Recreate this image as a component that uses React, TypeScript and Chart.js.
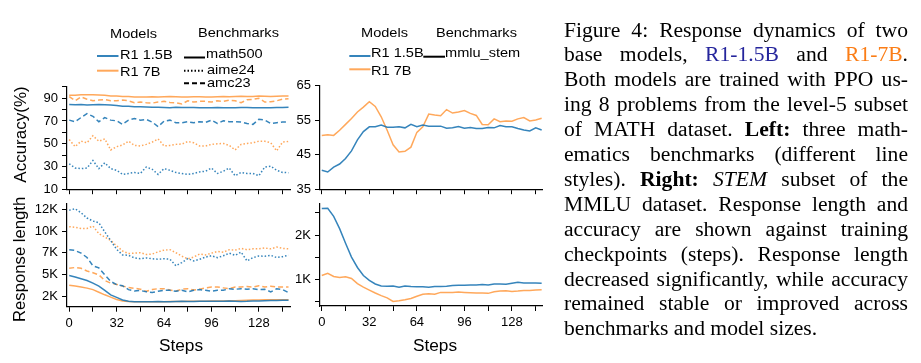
import React, { useEffect, useRef } from "react";
import { Chart, registerables } from "chart.js";
Chart.register(...registerables);

// ---------------- data ----------------
const steps = [0, 4, 8, 12, 16, 20, 24, 28, 32, 36, 40, 44, 48, 52, 56, 60, 64, 68, 72, 76, 80, 84, 88, 92, 96, 100, 104, 108, 112, 116, 120, 124, 128, 132, 136, 140, 144, 148];
const xTickValues = [0, 16, 32, 48, 64, 80, 96, 112, 128, 144];
const xTickLabels = ["0", "", "32", "", "64", "", "96", "", "128", ""];

// Left, accuracy (%)
const accMath500_15B = [84.5, 84.3, 84.5, 84.0, 84.3, 84.5, 84.3, 84.0, 83.5, 83.0, 82.8, 82.5, 82.5, 82.2, 82.0, 82.0, 81.8, 81.5, 82.0, 81.8, 81.8, 81.8, 81.5, 81.5, 81.5, 81.8, 81.5, 81.5, 81.5, 81.8, 81.8, 81.5, 81.5, 81.5, 81.5, 81.8, 81.8, 82.0];
const accMath500_7B = [92.5, 92.5, 93.0, 93.0, 93.0, 92.8, 92.5, 92.0, 92.0, 91.5, 91.5, 91.0, 91.0, 91.0, 91.2, 91.0, 91.2, 91.5, 91.2, 91.0, 91.0, 91.3, 91.2, 91.0, 91.0, 91.3, 91.5, 91.2, 91.5, 91.8, 91.5, 91.5, 92.0, 91.8, 91.5, 91.8, 92.0, 92.0];
const accAmc23_7B = [91.4, 87.7, 91.1, 89.1, 87.7, 88.3, 88.9, 87.7, 87.7, 88.3, 87.7, 86.0, 86.6, 86.0, 85.7, 86.6, 87.2, 86.3, 86.0, 84.9, 87.7, 86.6, 87.2, 87.2, 86.6, 87.7, 87.2, 88.3, 87.7, 86.0, 88.6, 88.9, 90.0, 86.6, 86.9, 87.7, 89.1, 89.5];
const accAmc23_15B = [70.7, 69.3, 73.0, 76.4, 74.1, 69.3, 73.0, 70.7, 70.1, 67.0, 70.7, 72.1, 70.7, 71.3, 69.0, 65.0, 69.8, 70.7, 68.4, 68.4, 69.3, 68.4, 69.3, 68.7, 70.7, 67.8, 70.1, 69.3, 69.3, 69.0, 67.8, 67.0, 71.5, 70.7, 67.8, 68.4, 69.0, 69.0];
const accAime24_7B = [53.6, 47.4, 52.2, 50.8, 57.0, 52.2, 54.2, 44.5, 47.4, 48.8, 52.2, 48.5, 48.0, 49.4, 51.4, 54.2, 48.0, 48.5, 49.4, 49.7, 51.9, 50.8, 48.0, 48.0, 49.4, 49.9, 50.2, 48.5, 44.5, 49.4, 50.2, 50.8, 52.2, 52.2, 50.8, 43.7, 51.4, 52.0];
const accAime24_15B = [32.3, 28.6, 28.1, 28.6, 35.2, 28.1, 33.2, 28.1, 26.6, 23.0, 23.8, 24.7, 23.8, 29.5, 27.5, 23.0, 28.1, 26.6, 24.7, 23.8, 23.0, 23.8, 25.2, 25.8, 28.6, 23.8, 25.8, 28.6, 21.8, 24.7, 23.8, 23.8, 21.8, 29.5, 30.3, 26.6, 24.7, 24.5];
const accYTicks = [10, 20, 30, 40, 50, 60, 70, 80, 90, 100];
const accYLabels = ["10", "", "30", "", "50", "", "70", "", "90", ""];

// Left, response length
const lenAime24_15B = [12400, 12570, 12100, 11500, 11150, 10950, 9900, 8900, 7900, 7250, 7200, 6900, 6800, 6900, 6800, 6750, 6800, 6750, 6000, 6370, 6820, 6560, 6750, 7000, 7150, 6940, 7150, 7450, 7200, 7570, 6560, 6940, 7120, 7100, 7200, 6940, 7050, 7200];
const lenAime24_7B = [10500, 10430, 10300, 10300, 10580, 9700, 9300, 8900, 8300, 7700, 7400, 7450, 7500, 7300, 7350, 7600, 7800, 7850, 7500, 7100, 6800, 7000, 7350, 7250, 7450, 7650, 7550, 7850, 7800, 8000, 7850, 7950, 7950, 8050, 7950, 8150, 8000, 7950];
const lenAmc23_15B = [7850, 7760, 7450, 6950, 6000, 5750, 4950, 4200, 3820, 3700, 3250, 3080, 3150, 3000, 2920, 3060, 3175, 3175, 3060, 3175, 2990, 3175, 3250, 3175, 3060, 3175, 3175, 3350, 3290, 3350, 3290, 3350, 3250, 3290, 2990, 3350, 3250, 2900];
const lenAmc23_7B = [5700, 5800, 5700, 5400, 5200, 4950, 4300, 4000, 3850, 3650, 3500, 3400, 3300, 3050, 3250, 3360, 3360, 3200, 3100, 3290, 3360, 3200, 3300, 3440, 3550, 3550, 3450, 3360, 3550, 3550, 3600, 3550, 3700, 3550, 3650, 3550, 3550, 3550];
const lenMath500_15B = [4870, 4700, 4500, 4300, 4000, 3650, 3150, 2650, 2350, 2050, 1900, 1860, 1850, 1850, 1850, 1870, 1850, 1860, 1880, 1900, 1880, 1870, 1900, 1900, 1920, 1920, 1900, 1930, 1900, 1880, 1900, 1950, 1950, 1980, 2000, 2000, 2020, 2030];
const lenMath500_7B = [3740, 3660, 3550, 3420, 3250, 2950, 2650, 2380, 2120, 1950, 1870, 1860, 1850, 1850, 1860, 1850, 1860, 1870, 1880, 1880, 1900, 1900, 1910, 1920, 1930, 1940, 1950, 1960, 1980, 2000, 2030, 2050, 2060, 2070, 2070, 2080, 2080, 2080];
const lenYTicks = [2500, 5000, 7500, 10000, 12500];
const lenYLabels = ["2K", "5K", "7K", "10K", "12K"];

// Right, MMLU STEM
const stemAcc_15B = [40.5, 40.0, 41.4, 42.3, 43.9, 46.1, 49.3, 51.7, 53.1, 53.1, 53.6, 53.0, 53.0, 53.1, 52.8, 53.8, 53.1, 53.6, 53.3, 53.3, 53.3, 52.7, 52.8, 53.2, 52.7, 52.9, 52.6, 52.6, 52.9, 52.8, 53.5, 53.1, 53.1, 52.6, 52.2, 51.9, 52.8, 52.2];
const stemAcc_7B = [50.6, 50.8, 50.6, 52.1, 53.8, 55.5, 57.4, 58.8, 60.4, 59.0, 56.0, 52.1, 47.9, 45.8, 46.0, 47.2, 51.5, 53.1, 56.8, 56.5, 56.3, 58.1, 57.1, 57.4, 57.8, 57.0, 56.4, 53.8, 53.7, 55.4, 54.6, 54.8, 54.7, 55.4, 55.8, 54.8, 55.1, 55.6];
const stemAccTicks = [35, 45, 55, 65];
const stemAccLabels = ["35", "45", "55", "65"];
const stemLen_15B = [2600, 2607, 2424, 2146, 1817, 1503, 1268, 1086, 976, 895, 851, 844, 851, 822, 851, 837, 830, 830, 822, 837, 837, 844, 859, 866, 866, 873, 873, 881, 873, 895, 895, 888, 910, 932, 917, 917, 917, 910];
const stemLen_7B = [1086, 1137, 1064, 1042, 1056, 1020, 903, 822, 756, 690, 632, 581, 500, 515, 537, 566, 617, 661, 676, 661, 705, 705, 705, 712, 705, 698, 690, 690, 683, 720, 734, 742, 727, 734, 749, 749, 756, 764];
const stemLenTicks = [500, 1000, 1500, 2000, 2500];
const stemLenLabels = ["", "1K", "", "2K", ""];

// ---------------- styles ----------------
const SANS = "'Liberation Sans', Arial, Helvetica, sans-serif";
const SERIF = "'Liberation Serif', 'Times New Roman', serif";
const BLUE = "rgba(31,119,180,0.9)";
const ORANGE = "rgba(255,127,14,0.68)";
const SOLID: number[] = [];
const DASHED = [5, 3];
const DOTTED = [1.5, 2];

type DS = { label: string; values: number[]; color: string; dash: number[] };

type PanelProps = {
  left: number; top: number; width: number; height: number;
  padTop: number; padRight: number; yWidth: number; xHeight: number;
  datasets: DS[];
  yMin: number; yMax: number; yTicks: number[]; yLabels: string[];
  xMin: number; xMax: number; showX: boolean;
};

function Panel(p: PanelProps) {
  const ref = useRef<HTMLCanvasElement | null>(null);
  useEffect(() => {
    if (!ref.current) return;
    const chart = new Chart(ref.current, {
      type: "line",
      data: {
        datasets: p.datasets.map((d) => ({
          label: d.label,
          data: steps.map((s, i) => ({ x: s, y: d.values[i] })),
          borderColor: d.color,
          backgroundColor: d.color,
          borderWidth: 1.5,
          borderDash: d.dash,
          pointRadius: 0,
          fill: false,
          tension: 0,
        })),
      },
      options: {
        responsive: false,
        animation: false,
        events: [],
        layout: { padding: { top: p.padTop, right: p.padRight, left: 0, bottom: 0 } },
        plugins: { legend: { display: false }, tooltip: { enabled: false } },
        scales: {
          x: {
            type: "linear",
            min: p.xMin,
            max: p.xMax,
            afterBuildTicks: (s: any) => { s.ticks = xTickValues.map((v) => ({ value: v })); },
            afterFit: (s: any) => { s.height = p.xHeight; },
            ticks: {
              autoSkip: false, maxRotation: 0, minRotation: 0, padding: 4, color: "#000",
              font: { family: SANS, size: 13 },
              callback: (v: any) => {
                if (!p.showX) return "";
                const i = xTickValues.indexOf(Number(v));
                return i >= 0 ? xTickLabels[i] : "";
              },
            },
            grid: { drawOnChartArea: false, drawTicks: true, tickLength: 5, color: "#000", lineWidth: 1 },
            border: { color: "#000", width: 1.2 },
          },
          y: {
            type: "linear",
            min: p.yMin,
            max: p.yMax,
            afterBuildTicks: (s: any) => { s.ticks = p.yTicks.map((v) => ({ value: v })); },
            afterFit: (s: any) => { s.width = p.yWidth; },
            ticks: {
              autoSkip: false, padding: 4, color: "#000",
              font: { family: SANS, size: 13 },
              callback: (v: any) => {
                const i = p.yTicks.indexOf(Number(v));
                return i >= 0 ? p.yLabels[i] : "";
              },
            },
            grid: { drawOnChartArea: false, drawTicks: true, tickLength: 5, color: "#000", lineWidth: 1 },
            border: { color: "#000", width: 1.2 },
          },
        },
      },
    } as any);
    return () => chart.destroy();
  }, []);
  return (
    <canvas
      ref={ref}
      width={p.width}
      height={p.height}
      style={{ position: "absolute", left: p.left, top: p.top, width: p.width, height: p.height }}
    />
  );
}

function Txt(props: { x: number; cy: number; size: number; sx?: number; children: React.ReactNode }) {
  const { x, cy, size, sx = 1.12, children } = props;
  return (
    <div
      style={{
        position: "absolute", left: x, top: cy - size * 0.49, fontFamily: SANS, fontSize: size,
        lineHeight: 1, whiteSpace: "nowrap", color: "#000",
        transform: `scaleX(${sx})`, transformOrigin: "left center",
      }}
    >
      {children}
    </div>
  );
}

function CTxt(props: { cx: number; cy: number; size: number; sx?: number; children: React.ReactNode }) {
  const { cx, cy, size, sx = 1.08, children } = props;
  return (
    <div
      style={{
        position: "absolute", left: cx - 60, width: 120, top: cy - size * 0.49, fontFamily: SANS,
        fontSize: size, lineHeight: 1, whiteSpace: "nowrap", textAlign: "center", color: "#000",
        transform: `scaleX(${sx})`, transformOrigin: "center center",
      }}
    >
      {children}
    </div>
  );
}

function VTxt(props: { cx: number; cy: number; size: number; children: React.ReactNode }) {
  const { cx, cy, size, children } = props;
  const W = 200;
  return (
    <div
      style={{
        position: "absolute", left: cx - W / 2, top: cy - size / 2, width: W, height: size,
        fontFamily: SANS, fontSize: size, lineHeight: 1, whiteSpace: "nowrap", textAlign: "center",
        color: "#000", transform: "rotate(-90deg)", transformOrigin: "center center",
      }}
    >
      {children}
    </div>
  );
}

const captionLines: React.ReactNode[] = [
  <>Figure 4: Response dynamics of two</>,
  <>base models, <span style={{ color: "#25259c" }}>R1-1.5B</span> and <span style={{ color: "#fb7d16" }}>R1-7B</span>.</>,
  <>Both models are trained with PPO us-</>,
  <>ing 8 problems from the level-5 subset</>,
  <>of MATH dataset. <b>Left:</b> three math-</>,
  <>ematics benchmarks (different line</>,
  <>styles). <b>Right:</b> <i>STEM</i> subset of the</>,
  <>MMLU dataset. Response length and</>,
  <>accuracy are shown against training</>,
  <>checkpoints (steps). Response length</>,
  <>decreased significantly, while accuracy</>,
  <>remained stable or improved across</>,
  <>benchmarks and model sizes.</>,
];

export default function App() {
  const CAP_SX = 1.08;
  return (
    <div style={{ position: "absolute", left: 0, top: 0, width: 921, height: 363, background: "#fff", overflow: "hidden" }}>
      <Panel
        left={0} top={75} width={300} height={126} padTop={10} padRight={10} yWidth={67} xHeight={10.3}
        datasets={[
          { label: "R1 1.5B math500", values: accMath500_15B, color: BLUE, dash: SOLID },
          { label: "R1 7B math500", values: accMath500_7B, color: ORANGE, dash: SOLID },
          { label: "R1 1.5B aime24", values: accAime24_15B, color: BLUE, dash: DOTTED },
          { label: "R1 7B aime24", values: accAime24_7B, color: ORANGE, dash: DOTTED },
          { label: "R1 1.5B amc23", values: accAmc23_15B, color: BLUE, dash: DASHED },
          { label: "R1 7B amc23", values: accAmc23_7B, color: ORANGE, dash: DASHED },
        ]}
        yMin={10} yMax={100} yTicks={accYTicks} yLabels={accYLabels} xMin={-1.5} xMax={149} showX={false}
      />
      <Panel
        left={0} top={192} width={300} height={171} padTop={9.7} padRight={10} yWidth={67} xHeight={56.3}
        datasets={[
          { label: "R1 1.5B math500", values: lenMath500_15B, color: BLUE, dash: SOLID },
          { label: "R1 7B math500", values: lenMath500_7B, color: ORANGE, dash: SOLID },
          { label: "R1 1.5B aime24", values: lenAime24_15B, color: BLUE, dash: DOTTED },
          { label: "R1 7B aime24", values: lenAime24_7B, color: ORANGE, dash: DOTTED },
          { label: "R1 1.5B amc23", values: lenAmc23_15B, color: BLUE, dash: DASHED },
          { label: "R1 7B amc23", values: lenAmc23_7B, color: ORANGE, dash: DASHED },
        ]}
        yMin={1280} yMax={13140} yTicks={lenYTicks} yLabels={lenYLabels} xMin={-1.5} xMax={149} showX={true}
      />
      <Panel
        left={280} top={74} width={280} height={127} padTop={10} padRight={17.3} yWidth={40} xHeight={10.5}
        datasets={[
          { label: "R1 1.5B mmlu_stem", values: stemAcc_15B, color: BLUE, dash: SOLID },
          { label: "R1 7B mmlu_stem", values: stemAcc_7B, color: ORANGE, dash: SOLID },
        ]}
        yMin={35} yMax={65} yTicks={stemAccTicks} yLabels={stemAccLabels} xMin={-1.2} xMax={148.7} showX={false}
      />
      <Panel
        left={280} top={192} width={280} height={171} padTop={9} padRight={17.3} yWidth={40} xHeight={57}
        datasets={[
          { label: "R1 1.5B mmlu_stem", values: stemLen_15B, color: BLUE, dash: SOLID },
          { label: "R1 7B mmlu_stem", values: stemLen_7B, color: ORANGE, dash: SOLID },
        ]}
        yMin={397} yMax={2708} yTicks={stemLenTicks} yLabels={stemLenLabels} xMin={-1.2} xMax={148.7} showX={true}
      />

      {/* legend handles */}
      <svg width={921} height={363} style={{ position: "absolute", left: 0, top: 0 }}>
        <line x1={97} y1={56} x2={118.5} y2={56} stroke={BLUE} strokeWidth={2} />
        <line x1={97} y1={70.7} x2={118.5} y2={70.7} stroke={ORANGE} strokeWidth={2} />
        <line x1={184} y1={57.5} x2={205} y2={57.5} stroke="#000" strokeWidth={2} />
        <line x1={184} y1={70.7} x2={205} y2={70.7} stroke="#000" strokeWidth={2} strokeDasharray="1.5 2" />
        <line x1={184} y1={83.3} x2={205} y2={83.3} stroke="#000" strokeWidth={2} strokeDasharray="5 3" />
        <line x1={349.3} y1={56} x2={370.5} y2={56} stroke={BLUE} strokeWidth={2} />
        <line x1={349.3} y1={69.3} x2={370.5} y2={69.3} stroke={ORANGE} strokeWidth={2} />
        <line x1={423.3} y1={56.7} x2={445} y2={56.7} stroke="#000" strokeWidth={2} />
      </svg>

      {/* left legend */}
      <Txt x={110} cy={33} size={13}>Models</Txt>
      <Txt x={198} cy={32.5} size={13}>Benchmarks</Txt>
      <Txt x={120} cy={54.3} size={13}>R1 1.5B</Txt>
      <Txt x={120} cy={71} size={13}>R1 7B</Txt>
      <Txt x={206} cy={53.8} size={13}>math500</Txt>
      <Txt x={206.5} cy={69.5} size={13}>aime24</Txt>
      <Txt x={206.5} cy={82.7} size={13}>amc23</Txt>

      {/* right legend */}
      <Txt x={361} cy={32.3} size={13}>Models</Txt>
      <Txt x={436} cy={32} size={13}>Benchmarks</Txt>
      <Txt x={370.7} cy={52.7} size={13}>R1 1.5B</Txt>
      <Txt x={370.7} cy={70.3} size={13}>R1 7B</Txt>
      <Txt x={445} cy={52.7} size={13}>mmlu_stem</Txt>

      {/* axis titles */}
      <VTxt cx={19.7} cy={134} size={17}>Accuracy(%)</VTxt>
      <VTxt cx={19.5} cy={259} size={16.7}>Response length</VTxt>
      <CTxt cx={181} cy={345.4} size={16}>Steps</CTxt>
      <CTxt cx={435} cy={345.4} size={16}>Steps</CTxt>

      {/* caption */}
      <div
        style={{
          position: "absolute", left: 564.3, top: 17.5, width: 344 / CAP_SX, fontFamily: SERIF, fontSize: 20,
          lineHeight: "24.9px", color: "#000", transform: `scaleX(${CAP_SX})`, transformOrigin: "left top",
        }}
      >
        {captionLines.map((l, i) => (
          <div
            key={i}
            style={{
              textAlign: i === captionLines.length - 1 ? "left" : "justify",
              textAlignLast: i === captionLines.length - 1 ? "left" : "justify",
              whiteSpace: "normal",
            }}
          >
            {l}
          </div>
        ))}
      </div>
    </div>
  );
}
